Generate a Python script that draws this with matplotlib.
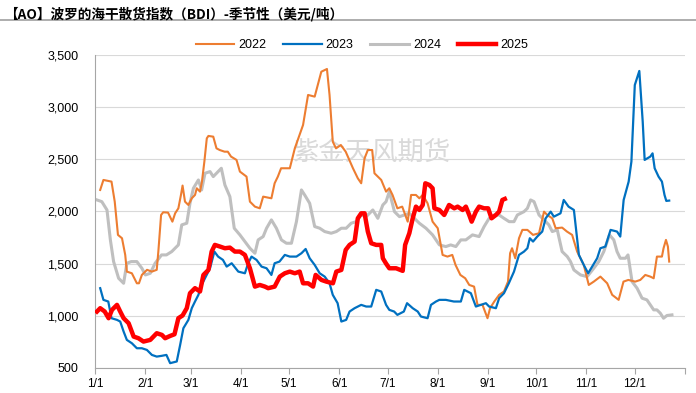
import matplotlib.pyplot as plt
import numpy as np

plt.rcParams['font.family'] = ['Liberation Sans', 'Noto Sans CJK SC', 'DejaVu Sans']

# day of year / BDI values
days_2022 = [3, 5, 8, 10, 12, 14, 16.5, 18.5, 19.5, 22.6, 25.7, 27, 28.8, 32, 35, 38, 39, 40.7, 42, 45,
             47.7, 49.4, 51.4, 53, 54, 55.5, 57.6, 59.7, 61.7, 62.8, 64.8, 66, 67.5, 69, 70, 73, 75, 77,
             80, 82, 84, 87.4, 89.5, 93.6, 95.7, 98.8, 101.8, 103.9, 109, 111, 113, 115, 120.4, 123.5,
             128.6, 131.7, 135.8, 139.9, 143.4, 145, 147, 149, 152, 155, 159.5, 162.5, 164.6, 166.7,
             168.7, 171.4, 172.8, 177, 180, 182, 184, 187, 190, 193.4, 195.5, 198.5, 200.6, 202.7,
             205.7, 208.8, 212, 215, 218, 221, 223, 226, 229, 231.5, 234.5, 236.6, 239.7, 242.8, 244.4,
             247, 250, 253, 255.5, 256.8, 258, 260, 262.3, 264.4, 267.5, 271, 274.7, 277.8, 279.8,
             282.9, 285, 289, 292, 295.2, 298.3, 302.4, 305.5, 308.6, 312.7, 316.9, 320, 324, 327, 330,
             334.3, 337.4, 340.5, 343.6, 345.7, 347.7, 350.8, 351.8, 353.3, 354.5, 355.3]
bdi_2022 = [2206, 2302, 2292, 2286, 2094, 1775, 1743, 1583, 1423, 1407, 1311, 1311, 1391, 1440, 1423,
            1440, 1615, 1966, 1992, 1989, 1902, 1982, 2030, 2158, 2248, 2094, 2062, 2126, 2158, 2222,
            2190, 2286, 2478, 2701, 2724, 2717, 2605, 2589, 2573, 2573, 2526, 2494, 2382, 2334, 2094,
            2046, 2030, 2142, 2126, 2270, 2334, 2414, 2414, 2605, 2829, 3117, 3101, 3340, 3366, 3117,
            2669, 2605, 2637, 2573, 2414, 2318, 2270, 2510, 2589, 2589, 2366, 2302, 2190, 2222, 2158,
            2030, 2046, 1902, 2158, 2158, 2126, 2158, 2078, 1902, 1839, 1583, 1567, 1583, 1487, 1391,
            1359, 1295, 1279, 1104, 1104, 976, 1072, 1136, 1200, 1232, 1327, 1599, 1647, 1551, 1743,
            1823, 1823, 1775, 1791, 1998, 1966, 1934, 1839, 1845, 1807, 1775, 1615, 1487, 1295, 1327,
            1375, 1311, 1200, 1152, 1327, 1343, 1327, 1343, 1391, 1375, 1359, 1567, 1567, 1647, 1727,
            1663, 1519]

days_2023 = [3, 5, 8, 10, 13.4, 15.4, 17.5, 19.5, 22.6, 25.7, 28.8, 31.9, 35, 38, 41, 44, 46.3, 50.4,
             52.5, 54.5, 57.6, 59.7, 61.7, 63.8, 65.8, 67.9, 71, 73.7, 76, 79, 81.3, 84.4, 88.5, 92.6,
             94.6, 96.7, 99.8, 102.9, 106, 109, 111, 114, 117.3, 120.4, 124.5, 127.6, 130.2, 132.7,
             135.8, 138.9, 142, 145, 147, 150, 152.3, 155.3, 157.4, 160.5, 164.6, 167.7, 170.8, 173.9,
             177, 180, 182, 185, 187, 191, 193, 196.5, 199.6, 201.6, 205.7, 207.8, 210.9, 213, 217, 222,
             226.3, 228.4, 232.5, 235.6, 238.7, 241.8, 243.8, 248, 250, 253, 256, 259.2, 262.3, 265.4,
             267.5, 269, 271, 273.6, 276.7, 278.8, 281.9, 283.9, 288, 290, 293, 296.3, 299.4, 302.4,
             305.1, 307.6, 310.7, 312.7, 315.8, 319, 323, 325, 327.1, 330.2, 331.9, 334, 336.8, 338.9,
             340.1, 343.6, 345, 346.3, 348.7, 350.8, 352.4, 353.5, 355.3]
bdi_2023 = [1264, 1152, 1136, 976, 960, 944, 848, 768, 736, 688, 688, 672, 624, 608, 615, 624, 545, 561,
            720, 880, 960, 1072, 1136, 1200, 1295, 1359, 1455, 1615, 1567, 1535, 1471, 1503, 1423, 1407,
            1503, 1567, 1535, 1471, 1455, 1391, 1503, 1519, 1583, 1567, 1567, 1599, 1640, 1551, 1487,
            1407, 1375, 1311, 1200, 1120, 944, 960, 1040, 1072, 1104, 1088, 1088, 1248, 1232, 1104,
            1056, 1040, 1008, 1040, 1120, 1072, 1040, 992, 976, 1104, 1136, 1152, 1152, 1136, 1136,
            1248, 1216, 1088, 1104, 1120, 1088, 1072, 1168, 1216, 1311, 1423, 1583, 1615, 1647, 1743,
            1711, 1759, 1807, 1934, 1998, 1950, 1982, 2110, 2046, 2014, 1583, 1487, 1407, 1471, 1551,
            1647, 1663, 1823, 1807, 1759, 2110, 2286, 2478, 3212, 3347, 2861, 2494, 2526, 2557, 2414,
            2334, 2286, 2158, 2101, 2104]

days_2024 = [1, 4, 7.2, 9.3, 11.3, 14.4, 17.5, 19.5, 22.2, 25.7, 28.8, 31, 34, 37, 41, 44, 47.3, 51.4,
             53.5, 56.6, 58.6, 60.7, 63.8, 65.8, 67.9, 71, 73, 76, 78, 80.2, 83.3, 86, 89.5, 92.6, 95.7,
             98.8, 100.8, 103.9, 106, 109, 112.1, 115.2, 118.3, 121.4, 124.5, 127.6, 129.6, 132.7,
             135.8, 138.9, 142, 146, 149.2, 152.3, 155.3, 158.4, 161.5, 164.6, 167.7, 171.8, 174.9,
             178, 180, 182, 185.2, 188.3, 191.3, 194.4, 197.5, 200.6, 204.7, 208.8, 213, 217, 220,
             223.2, 226.3, 229.4, 233.5, 237.6, 240.7, 243.8, 247, 250, 253, 256.2, 259.2, 261.3,
             265.4, 267.5, 269.5, 271.6, 274.7, 277.8, 280.8, 282.9, 286, 289, 292.2, 294.2, 296.3,
             300.4, 304.5, 308.6, 311.7, 314.8, 318.3, 321, 323, 325, 328.2, 329.8, 332.3, 335.4,
             338.5, 341.5, 343.6, 345.7, 347.7, 349.8, 351.8, 353.9, 357]
bdi_2024 = [2110, 2094, 2014, 1727, 1519, 1359, 1311, 1503, 1519, 1519, 1455, 1391, 1407, 1503, 1583,
            1583, 1615, 1679, 1871, 1887, 2078, 2222, 2302, 2206, 2366, 2382, 2334, 2382, 2414, 2254,
            2142, 1839, 1775, 1711, 1647, 1599, 1727, 1759, 1839, 1919, 1839, 1727, 1695, 1695, 1902,
            2206, 2158, 2078, 1855, 1839, 1807, 1791, 1807, 1839, 1839, 1887, 1902, 1966, 1950, 2014,
            1934, 2062, 2094, 2190, 1998, 1950, 1966, 1982, 1934, 1887, 1839, 1775, 1679, 1663, 1679,
            1663, 1727, 1727, 1775, 1759, 1855, 1934, 1966, 1966, 1934, 1902, 1902, 1966, 1998, 2030,
            2110, 2094, 1966, 1919, 1871, 1807, 1823, 1615, 1567, 1519, 1439, 1391, 1375, 1455, 1519,
            1615, 1775, 1727, 1615, 1551, 1551, 1583, 1327, 1264, 1168, 1152, 1104, 1056, 1056, 1024,
            976, 1002, 1008]

days_2025 = [1, 3, 5.8, 8.2, 10.3, 13.4, 15.4, 17.5, 20.6, 23.7, 26.7, 29.8, 34, 38, 41.2, 43.2, 46.3,
             49, 51.4, 54, 56.6, 58.6, 61.7, 64.8, 66.9, 70, 72, 74, 77.2, 80.2, 83.3, 86.4, 89.5, 92.6,
             95.7, 98.8, 101.8, 105, 107, 111, 114.2, 117.3, 120.4, 123.5, 126.5, 128.6, 131.7, 134.8,
             136.4, 140, 143, 147.1, 149.2, 152.3, 155, 157.4, 160.5, 162.5, 164.6, 166.7, 168.7, 170.8,
             173.9, 177, 178, 180, 182, 186.2, 190.3, 191.8, 194.4, 196.5, 198.5, 200.6, 202.7, 204.3,
             206.8, 208.8, 209.9, 213, 216, 219, 222.2, 224.3, 227.4, 229.4, 231.5, 233, 235.6, 237.6,
             240.7, 243.2, 245.3, 248, 250, 252, 253.5]
bdi_2025 = [1040, 1072, 1040, 976, 1056, 1104, 1040, 976, 928, 800, 784, 752, 768, 832, 816, 784, 806,
            822, 976, 1002, 1072, 1216, 1264, 1232, 1391, 1439, 1615, 1679, 1663, 1647, 1653, 1615, 1615,
            1583, 1455, 1279, 1295, 1279, 1264, 1279, 1375, 1407, 1423, 1407, 1423, 1311, 1311, 1279,
            1391, 1343, 1327, 1311, 1423, 1439, 1631, 1679, 1711, 1934, 1982, 1982, 1807, 1695, 1679,
            1679, 1551, 1500, 1455, 1455, 1430, 1679, 1791, 1934, 2046, 2014, 2062, 2270, 2254, 2222,
            2030, 2014, 1966, 2062, 2030, 2046, 2014, 2046, 1966, 1902, 1998, 2046, 2030, 2030, 1934,
            1966, 1998, 2110, 2120]

month_starts = [0, 31, 59, 90, 120, 151, 181, 212, 243, 273, 304, 334]
month_labels = ["1/1", "2/1", "3/1", "4/1", "5/1", "6/1", "7/1", "8/1", "9/1", "10/1", "11/1", "12/1"]
y_ticks = [500, 1000, 1500, 2000, 2500, 3000, 3500]

fig = plt.figure(figsize=(6.96, 3.93), dpi=100)
ax = fig.add_axes([0.137, 0.064, 0.847, 0.796])

ax.plot(days_2022, bdi_2022, color="#ED7D31", lw=1.5, label="2022", zorder=3)
ax.plot(days_2023, bdi_2023, color="#0070C0", lw=1.6, label="2023", zorder=3)
ax.plot(days_2024, bdi_2024, color="#BFBFBF", lw=2.2, label="2024", zorder=2)
ax.plot(days_2025, bdi_2025, color="#FF0000", lw=3.2, label="2025", zorder=4)

ax.set_xlim(0, 365)
ax.set_ylim(500, 3500)
ax.set_yticks(y_ticks, labels=[f"{v:,}" for v in y_ticks])
ax.set_xticks(month_starts + [365], labels=month_labels + [""])
ax.yaxis.grid(True, color="#d9d9d9", lw=0.8)
ax.set_axisbelow(True)
ax.tick_params(axis="y", length=0, labelsize=9, pad=12)
ax.tick_params(axis="x", length=4, color="#a6a6a6", labelsize=8.5, pad=3)
for s in ["top", "right"]:
    ax.spines[s].set_visible(False)
for s in ["left", "bottom"]:
    ax.spines[s].set_color("#a6a6a6")

# watermark
ax.text(0.47, 0.69, "紫金天风期货", transform=ax.transAxes, fontsize=19,
        color="#d9d9d9", ha="center", va="center", family=["Noto Sans CJK SC"], zorder=1)

fig.text(0.006, 0.965, "【AO】波罗的海干散货指数（BDI）-季节性（美元/吨）", fontsize=9.8,
         fontweight="bold", va="center", ha="left", family=["Noto Sans CJK SC", "DejaVu Sans"])
fig.add_artist(plt.Line2D([0, 1], [0.948, 0.948], color="#a0a0a0", lw=1.2))

fig.legend(loc="center", bbox_to_anchor=(0.52, 0.885), ncol=4, frameon=False, fontsize=9,
           handlelength=3.1, columnspacing=1.35, handletextpad=0.3)

fig.savefig("out.png", dpi=100)
